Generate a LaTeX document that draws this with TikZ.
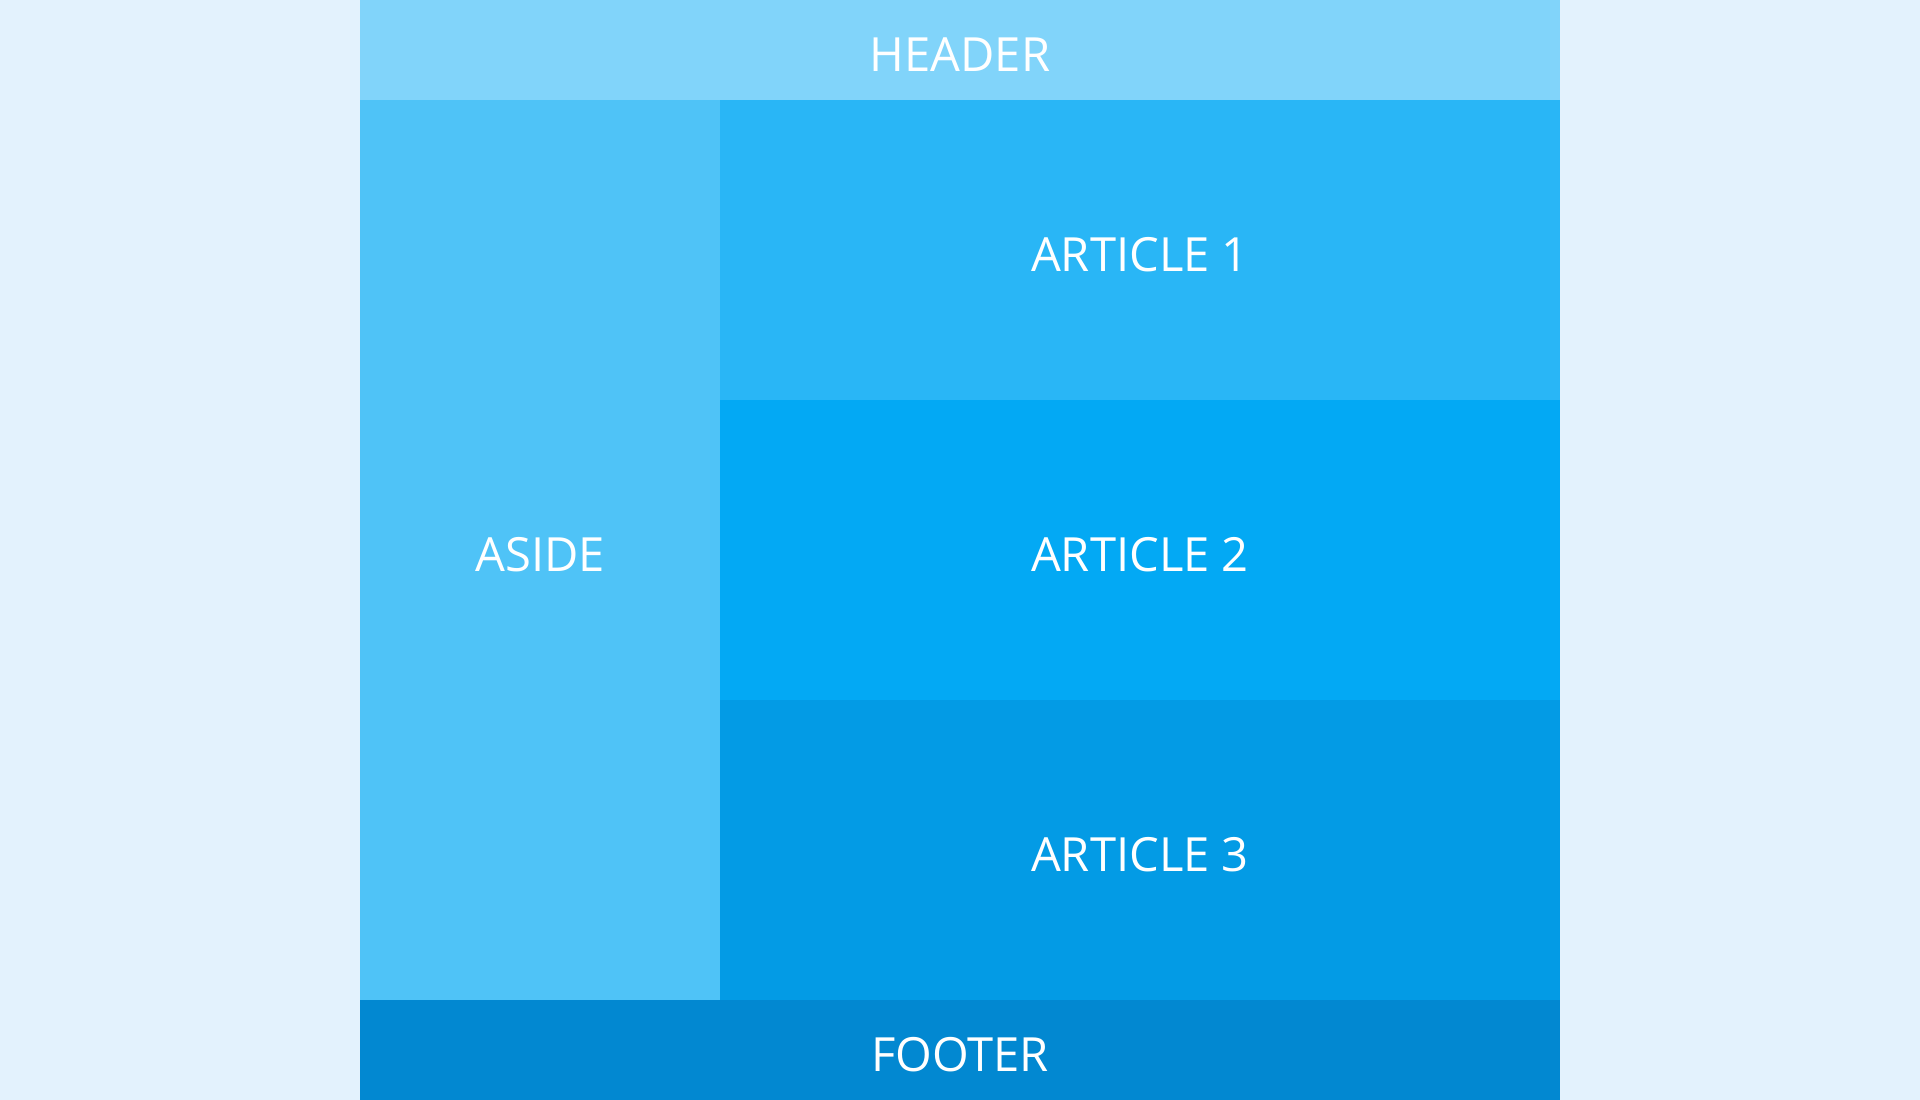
\documentclass[tikz,border=0pt]{standalone}
\usepackage{fontspec}
\setmainfont{Open Sans}
\definecolor{pagebg}{HTML}{E3F2FD}
\definecolor{headerblue}{HTML}{81D4FA}
\definecolor{asideblue}{HTML}{4FC3F7}
\definecolor{articleone}{HTML}{29B6F6}
\definecolor{articletwo}{HTML}{03A9F4}
\definecolor{articlethree}{HTML}{039BE5}
\definecolor{footerblue}{HTML}{0288D1}
\begin{document}
\begin{tikzpicture}[x=0.01cm, y=-0.01cm]
\fill[pagebg] (0,0) rectangle (1920,1100);
\useasboundingbox (0,0) rectangle (1920,1100);
\begin{scope}[every node/.style = {rectangle, inner sep=0pt, outer sep=0pt, text=white,
  font=\fontsize{13.4pt}{16pt}\selectfont, text height=0.42cm, text depth=0pt}]
\node[fill=headerblue, minimum width=12cm, minimum height=1cm] (header) at (960, 50) {HEADER};
\node[fill=asideblue, minimum width=3.6cm, minimum height=9cm] (aside) at (540, 550) {ASIDE};
\node[fill=articleone, minimum width=8.4cm, minimum height=3cm] (art1) at (1140, 250) {ARTICLE 1};
\node[fill=articletwo, minimum width=8.4cm, minimum height=3cm] (art2) at (1140, 550) {ARTICLE 2};
\node[fill=articlethree, minimum width=8.4cm, minimum height=3cm] (art3) at (1140, 850) {ARTICLE 3};
\node[fill=footerblue, minimum width=12cm, minimum height=1cm] (footer) at (960, 1050) {FOOTER};
\end{scope}
\end{tikzpicture}
\end{document}
